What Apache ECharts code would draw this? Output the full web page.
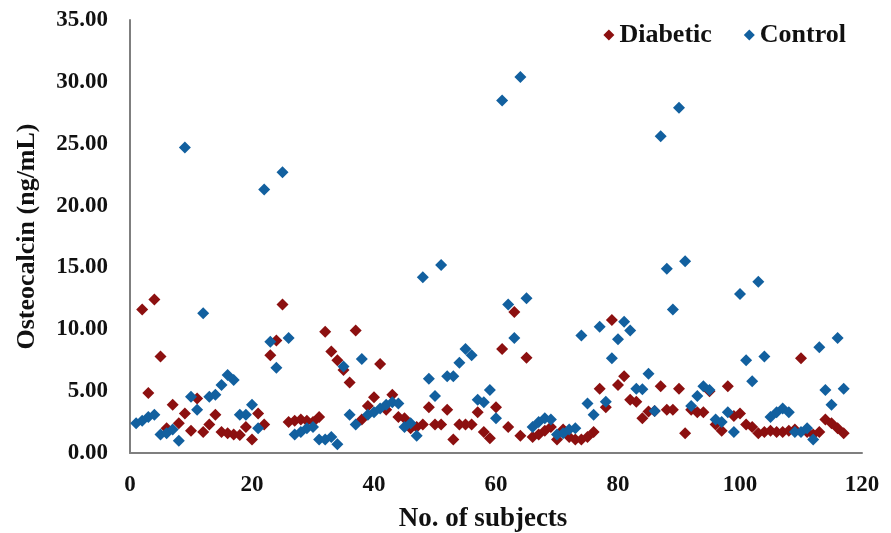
<!DOCTYPE html>
<html>
<head>
<meta charset="utf-8">
<script src="https://cdn.jsdelivr.net/npm/echarts@6/dist/echarts.min.js"></script>
<style>
  html, body { margin: 0; padding: 0; background: #fff; }
  #chart { width: 891px; height: 533px; }
</style>
</head>
<body>
<div id="chart"></div>
<script>
// [subject no., osteocalcin ng/mL]
var diabetic = [
  [2, 11.6], [3, 4.85], [4, 12.4], [5, 7.8], [6, 2.0], [7, 3.9], [8, 2.4], [9, 3.2], [10, 1.8],
  [11, 4.4], [12, 1.7], [13, 2.3], [14, 3.1], [15, 1.7], [16, 1.6], [17, 1.5], [18, 1.45], [19, 2.1], [20, 1.1],
  [21, 3.2], [22, 2.3], [23, 7.9], [24, 9.1], [25, 12.0], [26, 2.5], [27, 2.6], [28, 2.7], [29, 2.6], [30, 2.5],
  [31, 2.9], [32, 9.8], [33, 8.2], [34, 7.5], [35, 6.7], [36, 5.7], [37, 9.9], [38, 2.7], [39, 3.8], [40, 4.5],
  [41, 7.2], [42, 3.5], [43, 4.7], [44, 2.9], [45, 2.8], [46, 2.0], [47, 2.1], [48, 2.3], [49, 3.7], [50, 2.3],
  [51, 2.3], [52, 3.5], [53, 1.1], [54, 2.3], [55, 2.3], [56, 2.3], [57, 3.3], [58, 1.7], [59, 1.2], [60, 3.7],
  [61, 8.4], [62, 2.1], [63, 11.4], [64, 1.4], [65, 7.7], [66, 1.3], [67, 1.5], [68, 1.8], [69, 2.1], [70, 1.1],
  [71, 1.9], [72, 1.3], [73, 1.1], [74, 1.1], [75, 1.3], [76, 1.7], [77, 5.2], [78, 3.7], [79, 10.75], [80, 5.5],
  [81, 6.2], [82, 4.3], [83, 4.15], [84, 2.8], [85, 3.35], [86, 3.4], [87, 5.4], [88, 3.5], [89, 3.5], [90, 5.2],
  [91, 1.6], [92, 3.5], [93, 3.3], [94, 3.3], [95, 5.0], [96, 2.3], [97, 1.8], [98, 5.4], [99, 3.0], [100, 3.2],
  [101, 2.3], [102, 2.1], [103, 1.6], [104, 1.7], [105, 1.8], [106, 1.7], [107, 1.7], [108, 1.8], [109, 1.9], [110, 7.65],
  [111, 1.7], [112, 1.5], [113, 1.7], [114, 2.7], [115, 2.4], [116, 2.0], [117, 1.6]
];
var control = [
  [1, 2.4], [2, 2.6], [3, 2.9], [4, 3.1], [5, 1.5], [6, 1.6], [7, 1.9], [8, 1.0], [9, 24.7], [10, 4.55],
  [11, 3.5], [12, 11.3], [13, 4.55], [14, 4.7], [15, 5.5], [16, 6.3], [17, 5.9], [18, 3.1], [19, 3.1], [20, 3.9],
  [21, 2.0], [22, 21.3], [23, 9.0], [24, 6.9], [25, 22.7], [26, 9.3], [27, 1.5], [28, 1.7], [29, 2.0], [30, 2.1],
  [31, 1.1], [32, 1.1], [33, 1.3], [34, 0.7], [35, 7.0], [36, 3.1], [37, 2.3], [38, 7.6], [39, 3.1], [40, 3.3],
  [41, 3.6], [42, 3.9], [43, 4.1], [44, 4.0], [45, 2.1], [46, 2.4], [47, 1.4], [48, 14.2], [49, 6.0], [50, 4.6],
  [51, 15.2], [52, 6.2], [53, 6.2], [54, 7.3], [55, 8.4], [56, 7.9], [57, 4.3], [58, 4.1], [59, 5.1], [60, 2.8],
  [61, 28.5], [62, 12.0], [63, 9.3], [64, 30.4], [65, 12.5], [66, 2.1], [67, 2.5], [68, 2.8], [69, 2.7], [70, 1.5],
  [71, 1.6], [72, 1.9], [73, 2.0], [74, 9.5], [75, 4.0], [76, 3.1], [77, 10.2], [78, 4.15], [79, 7.65], [80, 9.2],
  [81, 10.6], [82, 9.9], [83, 5.2], [84, 5.15], [85, 6.4], [86, 3.4], [87, 25.6], [88, 14.9], [89, 11.6], [90, 27.9],
  [91, 15.5], [92, 3.8], [93, 4.6], [94, 5.4], [95, 5.1], [96, 2.7], [97, 2.5], [98, 3.3], [99, 1.7], [100, 12.85],
  [101, 7.5], [102, 5.8], [103, 13.85], [104, 7.8], [105, 2.9], [106, 3.3], [107, 3.6], [108, 3.3], [109, 1.7], [110, 1.7],
  [111, 2.0], [112, 1.1], [113, 8.55], [114, 5.1], [115, 3.9], [116, 9.3], [117, 5.2]
];

var serif = '"Liberation Serif", "DejaVu Serif", serif';

var chart = echarts.init(document.getElementById('chart'));
var option = {
  animation: false,
  backgroundColor: '#fff',
  textStyle: { fontFamily: serif },
  legend: {
    top: 17,
    right: 40,
    itemWidth: 11,
    itemHeight: 11,
    itemGap: 32,
    textStyle: { fontFamily: serif, fontWeight: 'bold', fontSize: 26, color: '#111' },
    data: [
      { name: 'Diabetic', icon: 'diamond' },
      { name: 'Control', icon: 'diamond' }
    ]
  },
  grid: { left: 130, right: 29, top: 20, bottom: 80, outerBoundsMode: 'none' },
  xAxis: {
    type: 'value',
    min: 0,
    max: 120,
    interval: 20,
    name: 'No. of subjects',
    nameLocation: 'middle',
    nameGap: 53,
    nameTextStyle: { fontFamily: serif, fontWeight: 'bold', fontSize: 27, color: '#111', padding: [0, 26, 0, 0] },
    axisLine: { show: true, lineStyle: { color: '#7f7f7f', width: 2 } },
    axisTick: { show: false },
    splitLine: { show: false },
    axisLabel: { margin: 21, fontFamily: serif, fontWeight: 'bold', fontSize: 23, color: '#111' }
  },
  yAxis: {
    type: 'value',
    min: 0,
    max: 35,
    interval: 5,
    name: 'Osteocalcin (ng/mL)',
    nameLocation: 'middle',
    nameGap: 90,
    nameTextStyle: { fontFamily: serif, fontWeight: 'bold', fontSize: 26, color: '#111' },
    axisLine: { show: true, lineStyle: { color: '#7f7f7f', width: 2 } },
    axisTick: { show: false },
    splitLine: { show: false },
    axisLabel: {
      margin: 22,
      fontFamily: serif, fontWeight: 'bold', fontSize: 23, color: '#111',
      formatter: function (v) { return v.toFixed(2); }
    }
  },
  series: [
    {
      name: 'Diabetic',
      type: 'scatter',
      symbol: 'diamond',
      symbolSize: 12,
      itemStyle: { color: '#8c1010', opacity: 1 },
      data: diabetic
    },
    {
      name: 'Control',
      type: 'scatter',
      symbol: 'diamond',
      symbolSize: 12,
      itemStyle: { color: '#12609f', opacity: 1 },
      data: control
    }
  ]
};
chart.setOption(option);
</script>
</body>
</html>
